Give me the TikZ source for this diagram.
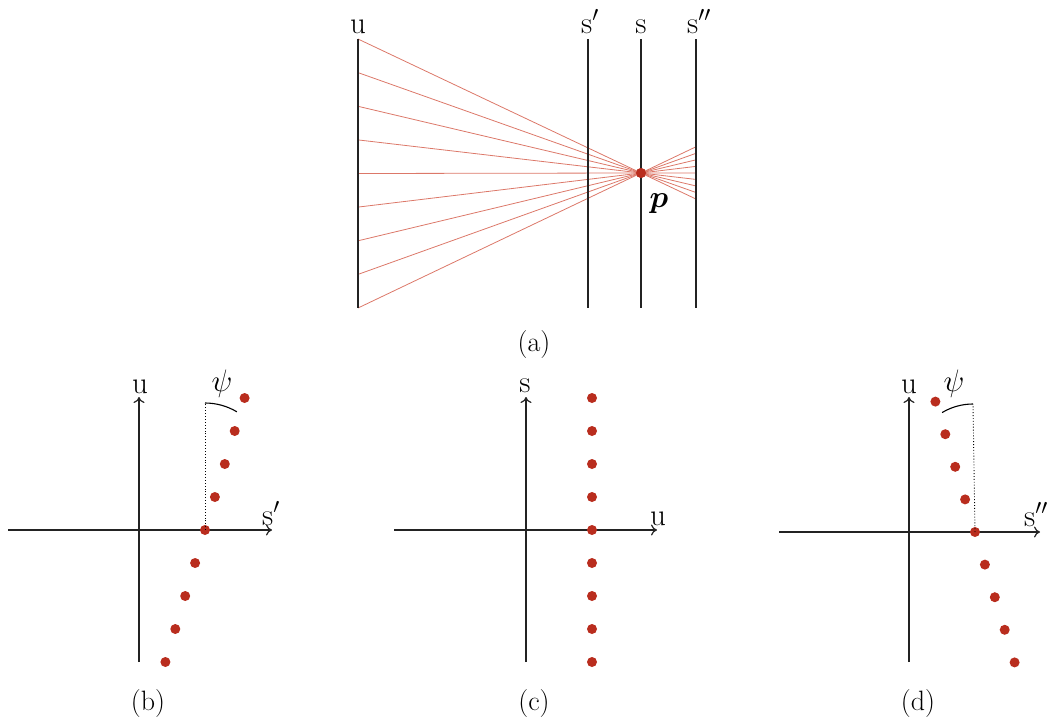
\RequirePackage{fix-cm}
\documentclass[tikz,border=0pt]{standalone}
\usepackage{bm}
\usetikzlibrary{arrows.meta,calc}
\definecolor{dotred}{RGB}{185,45,30}
\definecolor{rayred}{RGB}{220,120,105}
\definecolor{linegray}{RGB}{35,35,35}
\begin{document}
\begin{tikzpicture}[x=1pt,y=-1pt,
  lbl/.style={font=\fontsize{31}{37}\selectfont, inner sep=0pt},
  captext/.style={font=\fontsize{28}{34}\selectfont, inner sep=0pt},
  axis/.style={linegray, line width=1.2pt, -{To[length=6pt,width=11pt]}},
  bar/.style={linegray, line width=1.2pt},
  ray/.style={rayred, line width=0.8pt},
  pt/.style={circle, fill=dotred, inner sep=0pt, minimum size=10pt},
  guide/.style={dotted, line width=0.9pt},
  psiarc/.style={line width=1.1pt},
  ]
\useasboundingbox (0,0) rectangle (1052,720);

% ---------------- (a) ----------------
\foreach \n/\x in {u/358, sp/588, s/641, spp/696}{
  \coordinate (\n T) at (\x,39);
  \coordinate (\n B) at (\x,308);
}
\node[pt] (p) at (641,173) {};
\foreach \i/\y in {1/39,2/72.6,3/106.3,4/139.9,5/173.5,6/207.1,7/240.8,8/274.4,9/308}{
  \coordinate (r\i) at (358,\y);
  \coordinate (e\i) at ($(r\i)!1.19435!(p)$);
  \draw[ray] (r\i) -- (p.center) -- (e\i);
}
\foreach \n in {u, sp, s, spp}{ \draw[bar] (\n T) -- (\n B); }
\node[pt] at (p) {};
\node[lbl, anchor=base] (lu) at (358,33) {$\mathrm{u}$};
\node[lbl, anchor=base] (lsp) at (590,33) {$\mathrm{s}'$};
\node[lbl, anchor=base] (ls) at (641,33) {$\mathrm{s}$};
\node[lbl, anchor=base] (lspp) at (699,33) {$\mathrm{s}''$};
\node[lbl, anchor=base] (lp) at (659,207) {$\bm{p}$};
\node[captext, anchor=base] (capa) at (534,351) {(a)};

% ---------------- (b) ----------------
\coordinate (bxl) at (8,530); \coordinate (bxr) at (272,530);
\coordinate (byb) at (139,662); \coordinate (byt) at (139,397);
\draw[axis] (bxl) -- (bxr);
\draw[axis] (byb) -- (byt);
\node[lbl, anchor=base] (bu) at (140,393) {$\mathrm{u}$};
\node[lbl, anchor=base] (bs) at (271,525) {$\mathrm{s}'$};
\foreach \k in {-4,...,4}{
  \node[pt] (b\k) at ({205+9.9*\k},{530-33*\k}) {};
}
\coordinate (bg) at (205,403);
\draw[guide] (b0.center) -- (bg);
\draw[psiarc] (bg) arc[start angle=90, end angle=59, radius=62pt];
\node[lbl] (bpsi) at (222,384) {$\psi$};
\node[captext, anchor=base] (capb) at (148,710) {(b)};

% ---------------- (c) ----------------
\coordinate (cxl) at (394,530); \coordinate (cxr) at (657,530);
\coordinate (cyb) at (526,662); \coordinate (cyt) at (526,397);
\draw[axis] (cxl) -- (cxr);
\draw[axis] (cyb) -- (cyt);
\node[lbl, anchor=base] (cs) at (525,392) {$\mathrm{s}$};
\node[lbl, anchor=base] (cu) at (658,525) {$\mathrm{u}$};
\foreach \k in {-4,...,4}{
  \node[pt] (c\k) at (592,{530-33*\k}) {};
}
\node[captext, anchor=base] (capc) at (534,710) {(c)};

% ---------------- (d) ----------------
\coordinate (dxl) at (779,532); \coordinate (dxr) at (1040,532);
\coordinate (dyb) at (909,662); \coordinate (dyt) at (909,397);
\draw[axis] (dxl) -- (dxr);
\draw[axis] (dyb) -- (dyt);
\node[lbl, anchor=base] (du) at (909,393) {$\mathrm{u}$};
\node[lbl, anchor=base] (ds) at (1036,526) {$\mathrm{s}''$};
\foreach \k in {-4,...,4}{
  \node[pt] (d\k) at ({975-9.9*\k},{532-32.6*\k}) {};
}
\coordinate (dg) at (973,404);
\draw[guide] (d0.center) -- (dg);
\draw[psiarc] (dg) arc[start angle=90, end angle=121, radius=60pt];
\node[lbl] (dpsi) at (954,384) {$\psi$};
\node[captext, anchor=base] (capd) at (918,710) {(d)};
\end{tikzpicture}
\end{document}
